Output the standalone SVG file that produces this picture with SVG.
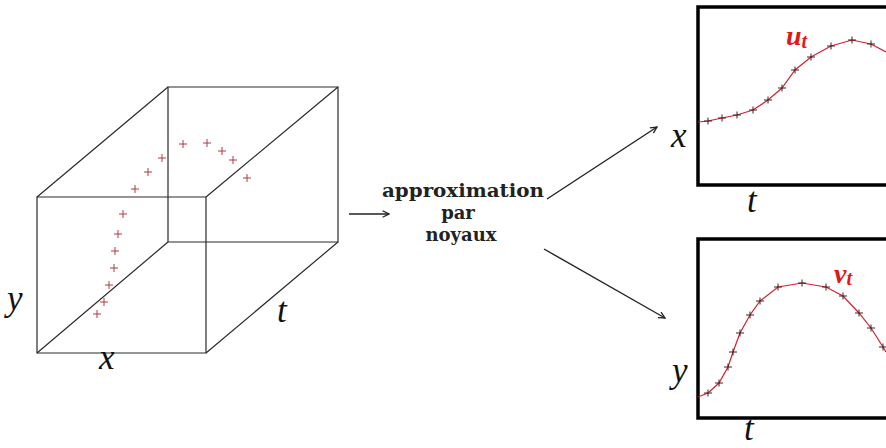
<svg xmlns="http://www.w3.org/2000/svg" width="886" height="448" viewBox="0 0 886 448">
<style>
.edge{stroke:#2a2a2a;stroke-width:1.2;fill:none}
.lbl{font-family:"Liberation Serif","Times New Roman",serif;font-style:italic;font-size:35px;fill:#111}
.red{font-family:"Liberation Serif","Times New Roman",serif;font-style:italic;font-weight:bold;fill:#e01818}
.txt{font-family:"DejaVu Serif","Liberation Serif",serif;font-weight:bold;font-size:18px;fill:#222;text-anchor:middle}
.arr{stroke:#222;stroke-width:1.4;fill:none}
.box{stroke:#000;stroke-width:3.5;fill:#fff}
.curve{stroke:#d02030;stroke-width:1.2;fill:none}
.cr{stroke:#b03848;stroke-width:1}
.ck{stroke:#402020;stroke-width:1}
</style>
<defs>
<marker id="ah" viewBox="0 0 10 10" refX="9" refY="5" markerWidth="8" markerHeight="8" markerUnits="userSpaceOnUse" orient="auto">
<path d="M1,1 L9,5 L1,9" fill="none" stroke="#222" stroke-width="1.6"/>
</marker>
<path id="p" d="M-4,0 H4 M0,-4 V4"/>
<path id="q" d="M-4,0 H4 M0,-3.5 V3.5"/>
</defs>
<rect width="886" height="448" fill="#fff"/>

<g id="cube">
<path class="edge" d="M37,197 H206 V353 H37 Z"/>
<path class="edge" d="M168,87 H338 V242 H168 Z"/>
<path class="edge" d="M37,197 L168,87 M206,197 L338,87 M206,353 L338,242 M37,353 L168,242"/>
<g class="cr">
<use href="#p" x="183" y="144"/><use href="#p" x="207" y="143"/><use href="#p" x="222" y="151"/><use href="#p" x="233" y="160"/><use href="#p" x="247" y="178"/>
<use href="#p" x="162" y="158"/><use href="#p" x="148" y="172"/><use href="#p" x="135" y="189"/><use href="#p" x="123" y="214"/><use href="#p" x="118" y="234"/>
<use href="#p" x="115" y="251"/><use href="#p" x="114" y="268"/><use href="#p" x="109" y="285"/><use href="#p" x="104" y="302"/><use href="#p" x="97" y="314"/>
</g>
<text class="lbl" x="7" y="310">y</text>
<text class="lbl" x="99" y="369">x</text>
<text class="lbl" x="277" y="322">t</text>
</g>

<g id="label">
<text class="txt" x="463" y="197" textLength="162" lengthAdjust="spacingAndGlyphs">approximation</text>
<text class="txt" x="458" y="219">par</text>
<text class="txt" x="461" y="241">noyaux</text>
</g>

<g id="plot-u">
<rect class="box" x="698" y="7" width="200" height="178"/>
<polyline class="curve" points="698,122 708,121 722,118 737,115 753,110 768,100 782,88 795,70 811,57 831,46 852,40 871,44 886,52"/>
<g class="ck">
<use href="#q" x="708" y="121"/><use href="#q" x="722" y="118"/><use href="#q" x="737" y="115"/><use href="#q" x="753" y="110"/><use href="#q" x="768" y="100"/><use href="#q" x="782" y="88"/><use href="#q" x="795" y="70"/><use href="#q" x="811" y="57"/><use href="#q" x="831" y="46"/><use href="#q" x="852" y="40"/><use href="#q" x="871" y="44"/>
</g>
<text class="lbl" x="671" y="147">x</text>
<text class="lbl" x="747" y="212">t</text>
<text class="red" x="786" y="45" font-size="28">u<tspan font-size="20" dy="3">t</tspan></text>
</g>

<g id="plot-v">
<rect class="box" x="698" y="239" width="200" height="179"/>
<polyline class="curve" points="698,397 708,393 719,383 728,367 733,352 740,333 750,315 760,301 778,287 802,283 826,287 843,296 859,313 871,328 883,347 886,352"/>
<g class="ck">
<use href="#q" x="708" y="393"/><use href="#q" x="719" y="383"/><use href="#q" x="728" y="367"/><use href="#q" x="733" y="352"/><use href="#q" x="740" y="333"/><use href="#q" x="750" y="315"/><use href="#q" x="760" y="301"/><use href="#q" x="778" y="287"/><use href="#q" x="802" y="283"/><use href="#q" x="826" y="287"/><use href="#q" x="843" y="296"/><use href="#q" x="859" y="313"/><use href="#q" x="871" y="328"/><use href="#q" x="883" y="347"/>
</g>
<text class="lbl" x="672" y="382">y</text>
<text class="lbl" x="744" y="440">t</text>
<text class="red" x="834" y="283" font-size="28">v<tspan font-size="20" dy="2">t</tspan></text>
</g>

<g id="connectors">
<line class="arr" x1="349" y1="214" x2="389" y2="214" marker-end="url(#ah)"/>
<line class="arr" x1="547" y1="199" x2="657" y2="127" marker-end="url(#ah)"/>
<line class="arr" x1="544" y1="249" x2="665" y2="318" marker-end="url(#ah)"/>
</g>
</svg>
